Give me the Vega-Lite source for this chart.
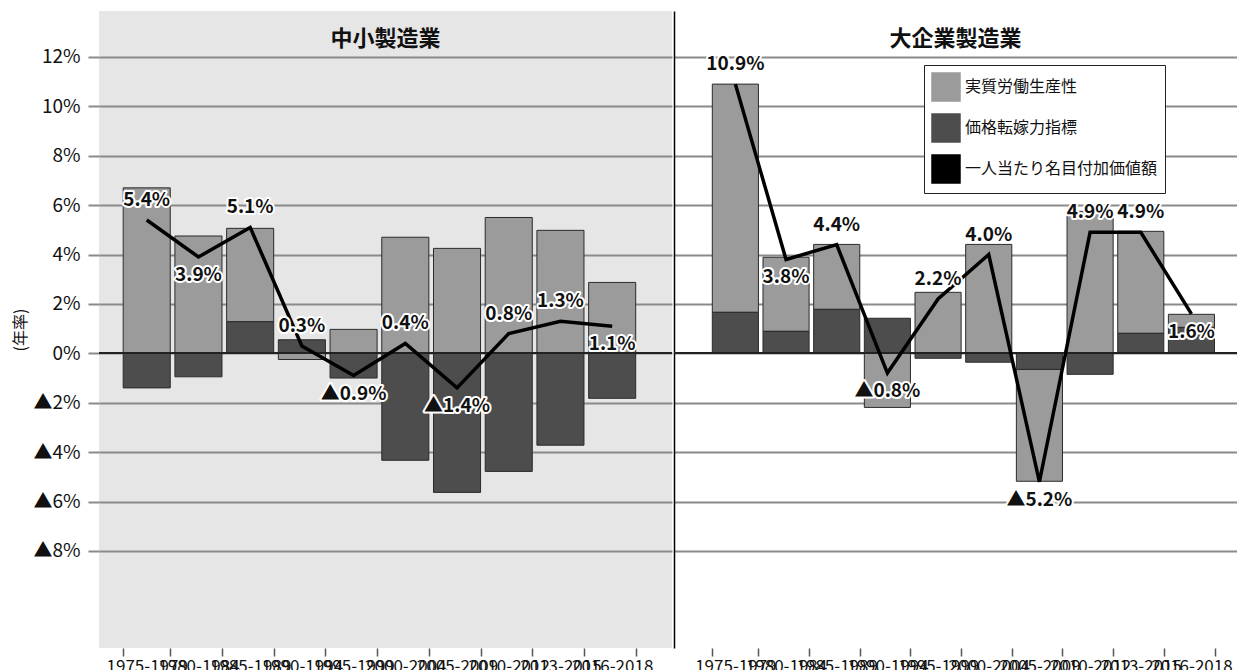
{
  "$schema": "https://vega.github.io/schema/vega-lite/v6.json",
  "padding": {"left": 12, "top": 11, "right": 17, "bottom": 2},
  "background": "white",
  "config": {
    "font": "Noto Sans CJK JP",
    "view": {"stroke": null}
  },
  "title": {"text": "(中小企業庁「価値創造企業い関する賢人会議」中間報告より)", "orient": "bottom", "anchor": "end", "fontSize": 16, "fontWeight": "normal", "offset": 4, "color": "#111"},
  "datasets": {
    "bars": [
      {"panel": "中小", "period": "1975-1979", "series": "実質労働生産性", "value": 6.7},
      {"panel": "中小", "period": "1975-1979", "series": "価格転嫁力指標", "value": -1.4},
      {"panel": "中小", "period": "1980-1984", "series": "実質労働生産性", "value": 4.75},
      {"panel": "中小", "period": "1980-1984", "series": "価格転嫁力指標", "value": -0.95},
      {"panel": "中小", "period": "1985-1989", "series": "実質労働生産性", "value": 3.78},
      {"panel": "中小", "period": "1985-1989", "series": "価格転嫁力指標", "value": 1.28},
      {"panel": "中小", "period": "1990-1994", "series": "実質労働生産性", "value": -0.25},
      {"panel": "中小", "period": "1990-1994", "series": "価格転嫁力指標", "value": 0.55},
      {"panel": "中小", "period": "1995-1999", "series": "実質労働生産性", "value": 0.97},
      {"panel": "中小", "period": "1995-1999", "series": "価格転嫁力指標", "value": -1.0},
      {"panel": "中小", "period": "2000-2004", "series": "実質労働生産性", "value": 4.7},
      {"panel": "中小", "period": "2000-2004", "series": "価格転嫁力指標", "value": -4.33},
      {"panel": "中小", "period": "2005-2009", "series": "実質労働生産性", "value": 4.25},
      {"panel": "中小", "period": "2005-2009", "series": "価格転嫁力指標", "value": -5.63},
      {"panel": "中小", "period": "2010-2012", "series": "実質労働生産性", "value": 5.5},
      {"panel": "中小", "period": "2010-2012", "series": "価格転嫁力指標", "value": -4.78},
      {"panel": "中小", "period": "2013-2015", "series": "実質労働生産性", "value": 4.98},
      {"panel": "中小", "period": "2013-2015", "series": "価格転嫁力指標", "value": -3.72},
      {"panel": "中小", "period": "2016-2018", "series": "実質労働生産性", "value": 2.87},
      {"panel": "中小", "period": "2016-2018", "series": "価格転嫁力指標", "value": -1.82},
      {"panel": "大", "period": "1975-1979", "series": "実質労働生産性", "value": 9.24},
      {"panel": "大", "period": "1975-1979", "series": "価格転嫁力指標", "value": 1.66},
      {"panel": "大", "period": "1980-1984", "series": "実質労働生産性", "value": 3.0},
      {"panel": "大", "period": "1980-1984", "series": "価格転嫁力指標", "value": 0.89},
      {"panel": "大", "period": "1985-1989", "series": "実質労働生産性", "value": 2.63},
      {"panel": "大", "period": "1985-1989", "series": "価格転嫁力指標", "value": 1.78},
      {"panel": "大", "period": "1990-1994", "series": "実質労働生産性", "value": -2.19},
      {"panel": "大", "period": "1990-1994", "series": "価格転嫁力指標", "value": 1.42},
      {"panel": "大", "period": "1995-1999", "series": "実質労働生産性", "value": 2.47},
      {"panel": "大", "period": "1995-1999", "series": "価格転嫁力指標", "value": -0.2},
      {"panel": "大", "period": "2000-2004", "series": "実質労働生産性", "value": 4.41},
      {"panel": "大", "period": "2000-2004", "series": "価格転嫁力指標", "value": -0.36},
      {"panel": "大", "period": "2005-2009", "series": "実質労働生産性", "value": -4.53},
      {"panel": "大", "period": "2005-2009", "series": "価格転嫁力指標", "value": -0.65},
      {"panel": "大", "period": "2010-2012", "series": "実質労働生産性", "value": 5.75},
      {"panel": "大", "period": "2010-2012", "series": "価格転嫁力指標", "value": -0.85},
      {"panel": "大", "period": "2013-2015", "series": "実質労働生産性", "value": 4.13},
      {"panel": "大", "period": "2013-2015", "series": "価格転嫁力指標", "value": 0.81},
      {"panel": "大", "period": "2016-2018", "series": "実質労働生産性", "value": 0.53},
      {"panel": "大", "period": "2016-2018", "series": "価格転嫁力指標", "value": 1.05}
    ],
    "line": [
      {"panel": "中小", "period": "1975-1979", "series": "一人当たり名目付加価値額", "value": 5.4},
      {"panel": "中小", "period": "1980-1984", "series": "一人当たり名目付加価値額", "value": 3.9},
      {"panel": "中小", "period": "1985-1989", "series": "一人当たり名目付加価値額", "value": 5.1},
      {"panel": "中小", "period": "1990-1994", "series": "一人当たり名目付加価値額", "value": 0.3},
      {"panel": "中小", "period": "1995-1999", "series": "一人当たり名目付加価値額", "value": -0.9},
      {"panel": "中小", "period": "2000-2004", "series": "一人当たり名目付加価値額", "value": 0.4},
      {"panel": "中小", "period": "2005-2009", "series": "一人当たり名目付加価値額", "value": -1.4},
      {"panel": "中小", "period": "2010-2012", "series": "一人当たり名目付加価値額", "value": 0.8},
      {"panel": "中小", "period": "2013-2015", "series": "一人当たり名目付加価値額", "value": 1.3},
      {"panel": "中小", "period": "2016-2018", "series": "一人当たり名目付加価値額", "value": 1.1},
      {"panel": "大", "period": "1975-1979", "series": "一人当たり名目付加価値額", "value": 10.9},
      {"panel": "大", "period": "1980-1984", "series": "一人当たり名目付加価値額", "value": 3.8},
      {"panel": "大", "period": "1985-1989", "series": "一人当たり名目付加価値額", "value": 4.4},
      {"panel": "大", "period": "1990-1994", "series": "一人当たり名目付加価値額", "value": -0.8},
      {"panel": "大", "period": "1995-1999", "series": "一人当たり名目付加価値額", "value": 2.2},
      {"panel": "大", "period": "2000-2004", "series": "一人当たり名目付加価値額", "value": 4.0},
      {"panel": "大", "period": "2005-2009", "series": "一人当たり名目付加価値額", "value": -5.2},
      {"panel": "大", "period": "2010-2012", "series": "一人当たり名目付加価値額", "value": 4.9},
      {"panel": "大", "period": "2013-2015", "series": "一人当たり名目付加価値額", "value": 4.9},
      {"panel": "大", "period": "2016-2018", "series": "一人当たり名目付加価値額", "value": 1.6}
    ]
  },
  "spacing": 0,
  "resolve": {"scale": {"color": "independent", "x": "independent", "y": "independent"}, "legend": {"color": "independent"}},
  "hconcat": [
    {
      "width": 573,
      "height": 637,
      "view": {"fill": "#e6e6e6", "stroke": null},
      "title": {"text": "中小製造業", "fontSize": 22, "fontWeight": "bold", "offset": -40, "anchor": "middle", "color": "#111"},
      "layer": [
        {
          "data": {"name": "bars"},
          "transform": [{"filter": "datum.panel === '中小'"}],
          "mark": {"type": "bar", "stroke": "#2b2b2b", "strokeWidth": 1},
          "encoding": {
            "x": {"field": "period", "type": "nominal", "sort": null, "title": "(年度)",
              "scale": {"paddingInner": 0.09, "paddingOuter": 0.585, "align": 0.4},
              "axis": {"domain": false, "ticks": true, "tickBand": "extent", "tickSize": 8, "tickColor": "#555", "tickWidth": 1.5, "labelAngle": 0, "labelFontSize": 17, "labelColor": "#111", "titleFontSize": 16, "titleFontWeight": "normal", "titleColor": "#111", "grid": false}},
            "y": {"field": "value", "type": "quantitative", "stack": "zero", "title": "(年率)",
              "scale": {"domain": [-11.93, 13.86], "nice": false, "zero": false},
              "axis": {"values": [-8, -6, -4, -2, 0, 2, 4, 6, 8, 10, 12], "grid": true, "gridColor": "#8a8a8a", "gridWidth": 2, "domain": false, "ticks": true, "tickSize": 11, "tickColor": "#8a8a8a", "tickWidth": 2, "labelFontSize": 19, "labelColor": "#111", "labelPadding": 8, "labelExpr": "datum.value < 0 ? '▲' + (-datum.value) + '%' : datum.value + '%'", "titleFontSize": 16, "titleFontWeight": "normal", "titleColor": "#111"}},
            "color": {"field": "series", "type": "nominal", "legend": null,
              "scale": {"domain": ["実質労働生産性", "価格転嫁力指標", "一人当たり名目付加価値額"], "range": ["#9b9b9b", "#4d4d4d", "#000000"]}},
            "order": {"field": "series", "sort": "ascending"}
          }
        },
        {
          "data": {"name": "bars"},
          "transform": [{"filter": "datum.panel === '中小'"}],
          "mark": {"type": "rule", "color": "#222", "strokeWidth": 1.5},
          "encoding": {"y": {"datum": 0, "type": "quantitative", "title": "(年率)"}}
        },
        {
          "data": {"name": "line"},
          "transform": [{"filter": "datum.panel === '中小'"}],
          "mark": {"type": "line", "strokeWidth": 3.5},
          "encoding": {
            "x": {"field": "period", "type": "nominal", "sort": null, "title": "(年度)"},
            "y": {"field": "value", "type": "quantitative", "title": "(年率)"},
            "color": {"field": "series", "type": "nominal", "legend": null}
          }
        },
        {
          "data": {"name": "line"},
          "transform": [
            {"filter": "datum.panel === '中小'"},
            {"window": [{"op": "lag", "field": "value", "as": "prev"}, {"op": "lead", "field": "value", "as": "next"}]},
            {"calculate": "datum.value < 0 || (datum.prev != null && datum.value < datum.prev && (datum.next == null || datum.value < datum.next))", "as": "below"},
            {"calculate": "(datum.value < 0 ? '▲' : '') + format(abs(datum.value), '.1f') + '%'", "as": "label"}
          ],
          "encoding": {
            "x": {"field": "period", "type": "nominal", "sort": null, "title": "(年度)"},
            "y": {"field": "value", "type": "quantitative", "title": "(年率)"},
            "text": {"field": "label"}
          },
          "layer": [
            {"transform": [{"filter": "!datum.below"}], "mark": {"type": "text", "fontSize": 19, "fontWeight": "bold", "fill": "white", "stroke": "white", "strokeWidth": 4, "strokeJoin": "round", "dy": -20}},
            {"transform": [{"filter": "datum.below"}], "mark": {"type": "text", "fontSize": 19, "fontWeight": "bold", "fill": "white", "stroke": "white", "strokeWidth": 4, "strokeJoin": "round", "dy": 18}},
            {"transform": [{"filter": "!datum.below"}], "mark": {"type": "text", "fontSize": 19, "fontWeight": "bold", "fill": "#111", "dy": -20}},
            {"transform": [{"filter": "datum.below"}], "mark": {"type": "text", "fontSize": 19, "fontWeight": "bold", "fill": "#111", "dy": 18}}
          ]
        }
      ]
    },
    {
      "width": 563,
      "height": 637,
      "view": {"fill": "white", "stroke": null},
      "title": {"text": "大企業製造業", "fontSize": 22, "fontWeight": "bold", "offset": -40, "anchor": "middle", "color": "#111"},
      "layer": [
        {
          "data": {"name": "bars"},
          "transform": [{"filter": "datum.panel === '大'"}],
          "mark": {"type": "bar", "stroke": "#2b2b2b", "strokeWidth": 1},
          "encoding": {
            "x": {"field": "period", "type": "nominal", "sort": null, "title": "(年度)",
              "scale": {"paddingInner": 0.09, "paddingOuter": 0.6, "align": 0.63},
              "axis": {"domain": false, "ticks": true, "tickBand": "extent", "tickSize": 8, "tickColor": "#555", "tickWidth": 1.5, "labelAngle": 0, "labelFontSize": 17, "labelColor": "#111", "titleFontSize": 16, "titleFontWeight": "normal", "titleColor": "#111", "grid": false}},
            "y": {"field": "value", "type": "quantitative", "stack": "zero", "title": "(年率)",
              "scale": {"domain": [-11.93, 13.86], "nice": false, "zero": false},
              "axis": {"values": [-8, -6, -4, -2, 0, 2, 4, 6, 8, 10, 12], "grid": true, "gridColor": "#8a8a8a", "gridWidth": 2, "domain": true, "domainColor": "#000", "domainWidth": 1.5, "ticks": false, "labels": false, "title": null}},
            "color": {"field": "series", "type": "nominal",
              "scale": {"domain": ["実質労働生産性", "価格転嫁力指標", "一人当たり名目付加価値額"], "range": ["#9b9b9b", "#4d4d4d", "#000000"]},
              "legend": {"orient": "none", "legendX": 250, "legendY": 54, "title": null, "direction": "vertical", "padding": 7, "strokeColor": "#222", "fillColor": "white", "symbolType": "square", "symbolSize": 784, "labelFontSize": 16, "labelColor": "#111", "rowPadding": 7, "labelLimit": 400}},
            "order": {"field": "series", "sort": "ascending"}
          }
        },
        {
          "data": {"name": "bars"},
          "transform": [{"filter": "datum.panel === '大'"}],
          "mark": {"type": "rule", "color": "#222", "strokeWidth": 1.5},
          "encoding": {"y": {"datum": 0, "type": "quantitative", "title": "(年率)"}}
        },
        {
          "data": {"name": "line"},
          "transform": [{"filter": "datum.panel === '大'"}],
          "mark": {"type": "line", "strokeWidth": 3.5},
          "encoding": {
            "x": {"field": "period", "type": "nominal", "sort": null, "title": "(年度)"},
            "y": {"field": "value", "type": "quantitative", "title": "(年率)"},
            "color": {"field": "series", "type": "nominal"}
          }
        },
        {
          "data": {"name": "line"},
          "transform": [
            {"filter": "datum.panel === '大'"},
            {"window": [{"op": "lag", "field": "value", "as": "prev"}, {"op": "lead", "field": "value", "as": "next"}]},
            {"calculate": "datum.value < 0 || (datum.prev != null && datum.value < datum.prev && (datum.next == null || datum.value < datum.next))", "as": "below"},
            {"calculate": "(datum.value < 0 ? '▲' : '') + format(abs(datum.value), '.1f') + '%'", "as": "label"}
          ],
          "encoding": {
            "x": {"field": "period", "type": "nominal", "sort": null, "title": "(年度)"},
            "y": {"field": "value", "type": "quantitative", "title": "(年率)"},
            "text": {"field": "label"}
          },
          "layer": [
            {"transform": [{"filter": "!datum.below"}], "mark": {"type": "text", "fontSize": 19, "fontWeight": "bold", "fill": "white", "stroke": "white", "strokeWidth": 4, "strokeJoin": "round", "dy": -20}},
            {"transform": [{"filter": "datum.below"}], "mark": {"type": "text", "fontSize": 19, "fontWeight": "bold", "fill": "white", "stroke": "white", "strokeWidth": 4, "strokeJoin": "round", "dy": 18}},
            {"transform": [{"filter": "!datum.below"}], "mark": {"type": "text", "fontSize": 19, "fontWeight": "bold", "fill": "#111", "dy": -20}},
            {"transform": [{"filter": "datum.below"}], "mark": {"type": "text", "fontSize": 19, "fontWeight": "bold", "fill": "#111", "dy": 18}}
          ]
        }
      ]
    }
  ]
}
